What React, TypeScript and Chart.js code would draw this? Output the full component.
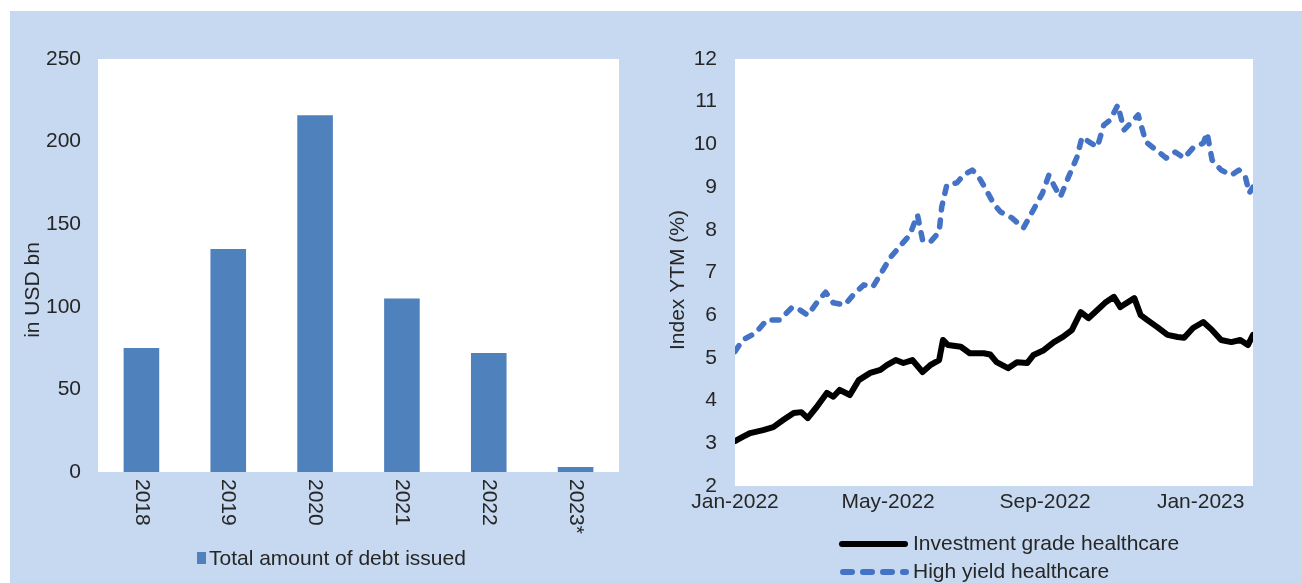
import React, { useEffect, useRef } from 'react';
import { Chart, registerables } from 'chart.js';

Chart.register(...registerables);

// ---------- Data ----------
const BAR_YEARS = ['2018', '2019', '2020', '2021', '2022', '2023*'];
const DEBT_ISSUED = [75, 135, 216, 105, 72, 3];
const BAR_Y_TICKS = [0, 50, 100, 150, 200, 250];
const BAR_LEGEND = 'Total amount of debt issued';
const BAR_Y_TITLE = 'in USD bn';

// days since 1 Jan 2022
const IG_DAYS = [0, 6, 12, 22, 30, 38, 46, 52, 57, 64, 72, 77, 82, 90, 97, 106, 114, 119, 126, 132, 139, 147, 153, 160, 163, 167, 177, 184, 195, 200, 205, 214, 221, 229, 234, 242, 250, 257, 264, 271, 277, 284, 290, 297, 302, 313, 318, 323, 331, 339, 347, 352, 359, 367, 374, 381, 389, 396, 402, 406];
const IG_YTM = [3.05, 3.15, 3.24, 3.31, 3.38, 3.55, 3.71, 3.73, 3.59, 3.85, 4.18, 4.09, 4.25, 4.13, 4.48, 4.65, 4.72, 4.83, 4.95, 4.88, 4.95, 4.67, 4.83, 4.95, 5.42, 5.3, 5.26, 5.11, 5.11, 5.08, 4.9, 4.76, 4.9, 4.88, 5.07, 5.18, 5.37, 5.49, 5.65, 6.07, 5.93, 6.12, 6.29, 6.43, 6.19, 6.4, 6.0, 5.89, 5.72, 5.54, 5.49, 5.47, 5.7, 5.84, 5.65, 5.42, 5.37, 5.42, 5.3, 5.54];
const HY_DAYS = [0, 6, 16, 25, 35, 45, 51, 57, 64, 71, 77, 86, 94, 101, 108, 115, 122, 130, 137, 143, 147, 153, 160, 162, 166, 174, 179, 186, 191, 196, 203, 208, 217, 226, 233, 241, 246, 251, 255, 261, 268, 272, 279, 284, 289, 294, 300, 305, 310, 316, 322, 330, 338, 345, 352, 359, 367, 370, 374, 381, 389, 395, 400, 403, 406];
const HY_YTM = [5.15, 5.42, 5.58, 5.89, 5.89, 6.19, 6.12, 6.0, 6.29, 6.54, 6.29, 6.24, 6.52, 6.71, 6.66, 7.01, 7.36, 7.64, 7.88, 8.35, 7.76, 7.71, 7.95, 8.53, 9.05, 9.1, 9.28, 9.4, 9.24, 8.98, 8.6, 8.42, 8.28, 8.04, 8.42, 8.86, 9.28, 8.98, 8.77, 9.21, 9.7, 10.17, 10.03, 9.94, 10.45, 10.57, 10.92, 10.34, 10.5, 10.69, 10.06, 9.87, 9.68, 9.82, 9.68, 9.92, 10.03, 10.27, 9.63, 9.4, 9.28, 9.4, 9.24, 8.86, 9.0];
const LINE_X_TICK_DAYS = [0, 120, 243, 365];
const LINE_X_TICK_LABELS = ['Jan-2022', 'May-2022', 'Sep-2022', 'Jan-2023'];
const LINE_Y_TICKS = [2, 3, 4, 5, 6, 7, 8, 9, 10, 11, 12];
const LINE_Y_TITLE = 'Index YTM (%)';
const SERIES_NAMES = ['Investment grade healthcare', 'High yield healthcare'];

// ---------- Styles ----------
const FONT = "'Liberation Sans', Arial, sans-serif";
const TEXT = '#262626';
const BG = '#C6D9F0';
const BAR_COLOR = '#4F81BD';
const HY_COLOR = '#4472C4';

Chart.defaults.font.family = FONT;

const plotBg = {
  id: 'plotBg',
  beforeDraw(chart: any) {
    const { ctx, chartArea: a } = chart;
    ctx.save();
    ctx.fillStyle = '#ffffff';
    ctx.fillRect(a.left, a.top, a.right - a.left, a.bottom - a.top);
    ctx.restore();
  },
};

function yTitle(text: string, x: number, y: number) {
  return {
    id: 'yTitle',
    afterDraw(chart: any) {
      const ctx = chart.ctx;
      ctx.save();
      ctx.translate(x, y);
      ctx.rotate(-Math.PI / 2);
      ctx.font = `21px ${FONT}`;
      ctx.fillStyle = TEXT;
      ctx.textAlign = 'center';
      ctx.textBaseline = 'middle';
      ctx.fillText(text, 0, 0);
      ctx.restore();
    },
  };
}

const barXLabels = {
  id: 'barXLabels',
  afterDraw(chart: any) {
    const { ctx, chartArea: a } = chart;
    const xs = chart.scales.x;
    ctx.save();
    ctx.font = `21px ${FONT}`;
    ctx.fillStyle = TEXT;
    ctx.textAlign = 'left';
    ctx.textBaseline = 'middle';
    BAR_YEARS.forEach((lab, i) => {
      const x = xs.getPixelForValue(i);
      ctx.save();
      ctx.translate(x, a.bottom + 7);
      ctx.rotate(Math.PI / 2);
      ctx.fillText(lab, 0, 0);
      ctx.restore();
    });
    ctx.restore();
  },
};

const barLegend = {
  id: 'barLegend',
  afterDraw(chart: any) {
    const ctx = chart.ctx;
    ctx.save();
    ctx.fillStyle = BAR_COLOR;
    ctx.fillRect(187, 541, 9, 12);
    ctx.font = `21px ${FONT}`;
    ctx.fillStyle = TEXT;
    ctx.textAlign = 'left';
    ctx.textBaseline = 'middle';
    ctx.fillText(BAR_LEGEND, 199, 548);
    ctx.restore();
  },
};

const lineLegend = {
  id: 'lineLegend',
  afterDraw(chart: any) {
    const ctx = chart.ctx;
    ctx.save();
    ctx.lineWidth = 6;
    ctx.lineCap = 'round';
    ctx.strokeStyle = '#000000';
    ctx.beginPath();
    ctx.moveTo(192, 533);
    ctx.lineTo(255, 533);
    ctx.stroke();
    ctx.strokeStyle = HY_COLOR;
    ctx.setLineDash([9, 11]);
    ctx.beginPath();
    ctx.moveTo(193, 561);
    ctx.lineTo(256, 561);
    ctx.stroke();
    ctx.setLineDash([]);
    ctx.font = `21px ${FONT}`;
    ctx.fillStyle = TEXT;
    ctx.textAlign = 'left';
    ctx.textBaseline = 'middle';
    ctx.fillText(SERIES_NAMES[0], 263, 533);
    ctx.fillText(SERIES_NAMES[1], 263, 561);
    ctx.restore();
  },
};

function BarChart() {
  const ref = useRef<HTMLCanvasElement>(null);
  useEffect(() => {
    const chart = new Chart(ref.current as HTMLCanvasElement, {
      type: 'bar',
      data: {
        labels: BAR_YEARS,
        datasets: [
          {
            label: BAR_LEGEND,
            data: DEBT_ISSUED,
            backgroundColor: BAR_COLOR,
            barPercentage: 0.41,
            categoryPercentage: 1,
          },
        ],
      },
      options: {
        animation: false,
        responsive: false,
        maintainAspectRatio: false,
        layout: { padding: { top: 48, right: 31, left: 0, bottom: 0 } },
        plugins: { legend: { display: false }, tooltip: { enabled: false } },
        scales: {
          x: {
            grid: { display: false, drawTicks: false },
            border: { display: false },
            ticks: { display: false },
            afterFit: (s: any) => {
              s.height = 111;
            },
          },
          y: {
            min: 0,
            max: 250,
            afterBuildTicks: (s: any) => {
              s.ticks = BAR_Y_TICKS.map((v) => ({ value: v }));
            },
            grid: { display: false, drawTicks: false },
            border: { display: false },
            ticks: { padding: 17, color: TEXT, font: { size: 21, family: FONT } },
            afterFit: (s: any) => {
              s.width = 88;
            },
          },
        },
      },
      plugins: [plotBg, barXLabels, barLegend, yTitle(BAR_Y_TITLE, 23, 279)],
    } as any);
    return () => chart.destroy();
  }, []);
  return <canvas ref={ref} width={640} height={572} style={{ position: 'absolute', left: 10, top: 11 }} />;
}

function LineChart() {
  const ref = useRef<HTMLCanvasElement>(null);
  useEffect(() => {
    const chart = new Chart(ref.current as HTMLCanvasElement, {
      type: 'line',
      data: {
        datasets: [
          {
            label: SERIES_NAMES[0],
            data: IG_DAYS.map((d, i) => ({ x: d, y: IG_YTM[i] })),
            borderColor: '#000000',
            borderWidth: 6,
            pointRadius: 0,
            tension: 0,
            borderJoinStyle: 'round',
            borderCapStyle: 'round',
          },
          {
            label: SERIES_NAMES[1],
            data: HY_DAYS.map((d, i) => ({ x: d, y: HY_YTM[i] })),
            borderColor: HY_COLOR,
            borderWidth: 5.5,
            borderDash: [7, 10],
            pointRadius: 0,
            tension: 0,
            borderJoinStyle: 'round',
            borderCapStyle: 'round',
          },
        ],
      },
      options: {
        animation: false,
        responsive: false,
        maintainAspectRatio: false,
        layout: { padding: { top: 48, right: 49, left: 0, bottom: 0 } },
        plugins: { legend: { display: false }, tooltip: { enabled: false } },
        scales: {
          x: {
            type: 'linear',
            min: 0,
            max: 406,
            afterBuildTicks: (s: any) => {
              s.ticks = LINE_X_TICK_DAYS.map((v) => ({ value: v }));
            },
            grid: { display: false, drawTicks: false },
            border: { display: false },
            ticks: {
              autoSkip: false,
              maxRotation: 0,
              minRotation: 0,
              padding: 4,
              color: TEXT,
              font: { size: 21, family: FONT },
              callback: (v: any) => {
                const i = LINE_X_TICK_DAYS.indexOf(Number(v));
                return i >= 0 ? LINE_X_TICK_LABELS[i] : '';
              },
            },
            afterFit: (s: any) => {
              s.height = 97;
            },
          },
          y: {
            min: 2,
            max: 12,
            afterBuildTicks: (s: any) => {
              s.ticks = LINE_Y_TICKS.map((v) => ({ value: v }));
            },
            grid: { display: false, drawTicks: false },
            border: { display: false },
            ticks: { padding: 18, color: TEXT, font: { size: 21, family: FONT } },
            afterFit: (s: any) => {
              s.width = 85;
            },
          },
        },
      },
      plugins: [plotBg, lineLegend, yTitle(LINE_Y_TITLE, 28, 269)],
    } as any);
    return () => chart.destroy();
  }, []);
  return <canvas ref={ref} width={652} height={572} style={{ position: 'absolute', left: 650, top: 11 }} />;
}

export default function App() {
  return (
    <div style={{ position: 'absolute', left: 0, top: 0, width: 1302, height: 583, background: '#ffffff', overflow: 'hidden' }}>
      <div style={{ position: 'absolute', left: 10, top: 11, width: 1292, height: 572, background: BG }} />
      <BarChart />
      <LineChart />
    </div>
  );
}
